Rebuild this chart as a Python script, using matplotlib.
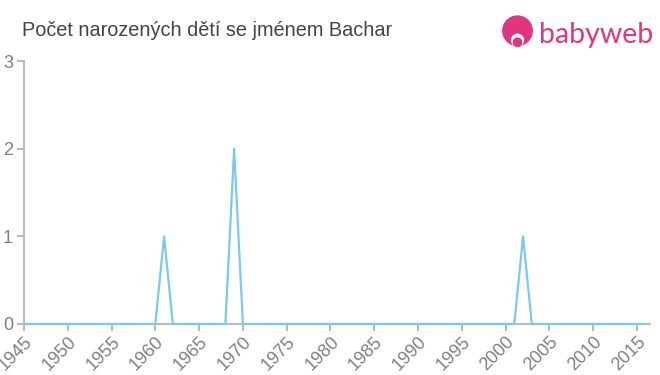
import numpy as np
import matplotlib
matplotlib.use("Agg")
import matplotlib.pyplot as plt
from matplotlib.patches import Circle

plt.rcParams['font.family'] = ['Liberation Sans', 'DejaVu Sans']

# data: births per year, zero except a few years
years = list(range(1945, 2017))
peak_years = [1961, 1969, 2002]
peak_counts = [1, 2, 1]
counts = [peak_counts[peak_years.index(y)] if y in peak_years else 0 for y in years]

xticks = list(range(1945, 2016, 5))
yticks = [0, 1, 2, 3]

title = "Počet narozených dětí se jménem Bachar"

fig = plt.figure(figsize=(6.6, 3.75), dpi=100)
ax = fig.add_axes([24/660, 1 - 324/375, 626/660, 263/375])

ax.plot(years, counts, color="#78cbea", lw=1.6, zorder=3, clip_on=False)

ax.set_xlim(1945, 2016.5)
ax.set_ylim(0, 3)
ax.set_xticks(xticks)
ax.set_xticklabels([str(t) for t in xticks], rotation=45, ha="right",
                   rotation_mode="anchor")
ax.set_yticks(yticks)

for s in ["top", "right"]:
    ax.spines[s].set_visible(False)
for s in ["left", "bottom"]:
    ax.spines[s].set_color("#bbbbbb")
    ax.spines[s].set_linewidth(1.5)
ax.tick_params(axis="both", colors="#bbbbbb", labelcolor="#808080",
               labelsize=13, width=1.5, length=5)
ax.tick_params(axis="x", pad=2)
ax.tick_params(axis="y", pad=3)

fig.text(22/660, 1 - 31/375, title, fontsize=14.3, color="#444444",
         va="center", ha="left")

# logo
logo = fig.add_axes([500/660, 1 - 50/375, 35/660, 35/375])
logo.set_xlim(0, 1)
logo.set_ylim(0, 1)
logo.set_aspect("equal")
logo.axis("off")
logo.add_patch(Circle((0.5, 0.55), 0.42, color="#e0357f"))
logo.add_patch(Circle((0.5, 0.28), 0.17, color="white"))
logo.add_patch(Circle((0.5, 0.22), 0.12, color="#e0357f"))
fig.text(539/660, 1 - 35/375, "babyweb", fontsize=20.5, color="#e0357f",
         va="center", ha="left", family=["Lato", "DejaVu Sans"])

fig.savefig("out.png", dpi=100)
